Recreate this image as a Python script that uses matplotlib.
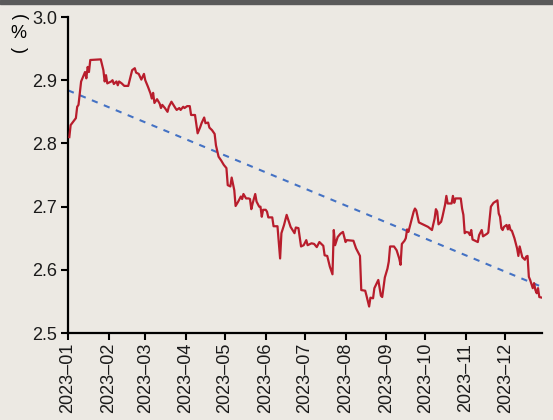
import numpy as np
import pandas as pd
import matplotlib
matplotlib.use('Agg')
import matplotlib.pyplot as plt
import matplotlib.dates as mdates

# yield series
dates = ['2023-01-02', '2023-01-03', '2023-01-07', '2023-01-08', '2023-01-09', '2023-01-11',
         '2023-01-13', '2023-01-14', '2023-01-15', '2023-01-16', '2023-01-17', '2023-01-18',
         '2023-01-26', '2023-01-28', '2023-01-29', '2023-01-30', '2023-01-31', '2023-02-03',
         '2023-02-04', '2023-02-05', '2023-02-07', '2023-02-08', '2023-02-09', '2023-02-11',
         '2023-02-13', '2023-02-16', '2023-02-18', '2023-02-19', '2023-02-21', '2023-02-22',
         '2023-02-24', '2023-02-26', '2023-02-28', '2023-03-01', '2023-03-03', '2023-03-05',
         '2023-03-06', '2023-03-07', '2023-03-08', '2023-03-10', '2023-03-12', '2023-03-13',
         '2023-03-14', '2023-03-16', '2023-03-18', '2023-03-19', '2023-03-21', '2023-03-24',
         '2023-03-25', '2023-03-27', '2023-03-28', '2023-03-30', '2023-03-31', '2023-04-02',
         '2023-04-04', '2023-04-05', '2023-04-08', '2023-04-10', '2023-04-12', '2023-04-13',
         '2023-04-15', '2023-04-16', '2023-04-18', '2023-04-19', '2023-04-21', '2023-04-23',
         '2023-04-24', '2023-04-26', '2023-04-28', '2023-04-30', '2023-05-02', '2023-05-03',
         '2023-05-05', '2023-05-06', '2023-05-08', '2023-05-09', '2023-05-11', '2023-05-13',
         '2023-05-14', '2023-05-15', '2023-05-17', '2023-05-19', '2023-05-20', '2023-05-21',
         '2023-05-22', '2023-05-24', '2023-05-25', '2023-05-27', '2023-05-28', '2023-05-29',
         '2023-05-30', '2023-06-01', '2023-06-02', '2023-06-03', '2023-06-06', '2023-06-07',
         '2023-06-10', '2023-06-12', '2023-06-13', '2023-06-15', '2023-06-17', '2023-06-19',
         '2023-06-20', '2023-06-23', '2023-06-24', '2023-06-26', '2023-06-28', '2023-06-30',
         '2023-07-02', '2023-07-03', '2023-07-06', '2023-07-08', '2023-07-10', '2023-07-12',
         '2023-07-15', '2023-07-16', '2023-07-18', '2023-07-20', '2023-07-22', '2023-07-23',
         '2023-07-24', '2023-07-26', '2023-07-28', '2023-07-30', '2023-08-01', '2023-08-02',
         '2023-08-07', '2023-08-09', '2023-08-12', '2023-08-13', '2023-08-16', '2023-08-17',
         '2023-08-19', '2023-08-20', '2023-08-22', '2023-08-23', '2023-08-26', '2023-08-28',
         '2023-08-29', '2023-08-31', '2023-09-02', '2023-09-03', '2023-09-04', '2023-09-07',
         '2023-09-09', '2023-09-11', '2023-09-12', '2023-09-13', '2023-09-15', '2023-09-16',
         '2023-09-17', '2023-09-18', '2023-09-20', '2023-09-22', '2023-09-23', '2023-09-24',
         '2023-09-26', '2023-09-30', '2023-10-03', '2023-10-06', '2023-10-08', '2023-10-09',
         '2023-10-10', '2023-10-11', '2023-10-13', '2023-10-14', '2023-10-16', '2023-10-17',
         '2023-10-18', '2023-10-21', '2023-10-22', '2023-10-23', '2023-10-24', '2023-10-28',
         '2023-10-29', '2023-10-30', '2023-10-31', '2023-11-01', '2023-11-03', '2023-11-04',
         '2023-11-05', '2023-11-06', '2023-11-08', '2023-11-10', '2023-11-11', '2023-11-13',
         '2023-11-14', '2023-11-17', '2023-11-18', '2023-11-19', '2023-11-20', '2023-11-22',
         '2023-11-25', '2023-11-26', '2023-11-27', '2023-11-28', '2023-11-29', '2023-11-30',
         '2023-12-02', '2023-12-03', '2023-12-04', '2023-12-05', '2023-12-06', '2023-12-08',
         '2023-12-10', '2023-12-11', '2023-12-12', '2023-12-14', '2023-12-16', '2023-12-17',
         '2023-12-18', '2023-12-19', '2023-12-20', '2023-12-22', '2023-12-23', '2023-12-24',
         '2023-12-25', '2023-12-26', '2023-12-27', '2023-12-29']
values = [2.810, 2.829, 2.840, 2.858, 2.861, 2.898,
          2.908, 2.913, 2.903, 2.921, 2.913, 2.932,
          2.933, 2.916, 2.898, 2.908, 2.895, 2.898,
          2.900, 2.894, 2.898, 2.892, 2.898, 2.895,
          2.891, 2.891, 2.908, 2.916, 2.919, 2.912,
          2.910, 2.901, 2.910, 2.900, 2.890, 2.879,
          2.871, 2.880, 2.864, 2.870, 2.863, 2.856,
          2.861, 2.856, 2.850, 2.858, 2.866, 2.856,
          2.853, 2.856, 2.853, 2.858, 2.856, 2.859,
          2.859, 2.845, 2.845, 2.816, 2.826, 2.832,
          2.841, 2.832, 2.833, 2.825, 2.821, 2.815,
          2.797, 2.779, 2.773, 2.766, 2.761, 2.734,
          2.732, 2.746, 2.726, 2.701, 2.708, 2.716,
          2.712, 2.720, 2.713, 2.713, 2.712, 2.696,
          2.705, 2.720, 2.708, 2.700, 2.700, 2.684,
          2.695, 2.695, 2.692, 2.683, 2.683, 2.669,
          2.669, 2.618, 2.658, 2.671, 2.687, 2.674,
          2.668, 2.658, 2.667, 2.666, 2.637, 2.639,
          2.647, 2.639, 2.642, 2.641, 2.636, 2.644,
          2.638, 2.623, 2.622, 2.605, 2.593, 2.663,
          2.639, 2.652, 2.657, 2.660, 2.644, 2.647,
          2.646, 2.634, 2.622, 2.568, 2.567, 2.559,
          2.542, 2.556, 2.555, 2.571, 2.584, 2.559,
          2.557, 2.588, 2.602, 2.613, 2.637, 2.637,
          2.631, 2.618, 2.608, 2.641, 2.646, 2.650,
          2.664, 2.660, 2.676, 2.692, 2.697, 2.694,
          2.675, 2.671, 2.668, 2.663, 2.681, 2.696,
          2.692, 2.672, 2.676, 2.684, 2.703, 2.717,
          2.705, 2.705, 2.717, 2.706, 2.713, 2.713,
          2.697, 2.687, 2.658, 2.660, 2.659, 2.655,
          2.663, 2.648, 2.646, 2.644, 2.655, 2.663,
          2.653, 2.657, 2.659, 2.679, 2.700, 2.706,
          2.710, 2.689, 2.684, 2.666, 2.663, 2.668,
          2.671, 2.664, 2.671, 2.663, 2.662, 2.650,
          2.634, 2.622, 2.637, 2.620, 2.616, 2.621,
          2.622, 2.589, 2.584, 2.571, 2.579, 2.568,
          2.563, 2.571, 2.557, 2.556]

# linear trend line, endpoints
trend_dates = ['2023-01-01', '2023-12-29']
trend_values = [2.884, 2.573]

month_ticks = pd.date_range('2023-01-01', '2023-12-01', freq='MS')
yticks = [2.5, 2.6, 2.7, 2.8, 2.9, 3.0]

bg = '#ece9e3'
plt.rcParams['font.family'] = ['Liberation Sans', 'DejaVu Sans']

fig = plt.figure(figsize=(5.53, 4.2), dpi=100, facecolor=bg)
ax = fig.add_axes([0.123, 0.207, 0.857, 0.7525])
ax.set_facecolor(bg)

x = pd.to_datetime(dates)
ax.plot(x, values, color='#b81d2c', lw=1.6, zorder=3)
ax.plot(pd.to_datetime(trend_dates), trend_values, color='#4472c4', lw=1.5,
        ls=(0, (3, 3.2)), zorder=2)

ax.set_xlim(pd.Timestamp('2023-01-01'), pd.Timestamp('2023-12-29'))
ax.set_ylim(2.5, 3.0)
ax.set_yticks(yticks)
ax.set_yticklabels(['%.1f' % v for v in yticks])
ax.set_xticks(month_ticks)
ax.set_xticklabels([d.strftime('%Y') + '\u2013' + d.strftime('%m') for d in month_ticks],
                   rotation=90)
ax.tick_params(axis='both', labelsize=13, length=5, width=1.5, color='black',
               labelcolor='#1a1a1a')
ax.tick_params(axis='x', pad=2)
ax.tick_params(axis='y', pad=3)

for s in ['top', 'right']:
    ax.spines[s].set_visible(False)
for s in ['left', 'bottom']:
    ax.spines[s].set_linewidth(1.6)
    ax.spines[s].set_color('black')

# vertical unit label
fig.text(18 / 553, 1 - 17 / 420, '(', rotation=-90, ha='center', va='center', fontsize=13)
fig.text(18 / 553, 1 - 33 / 420, '%', ha='center', va='center', fontsize=13)
fig.text(18 / 553, 1 - 50 / 420, ')', rotation=-90, ha='center', va='center', fontsize=13)

# dark bar along the top edge
fig.patches.append(plt.Rectangle((0, 1 - 4 / 420), 1, 4 / 420, transform=fig.transFigure,
                                 color='#5a5a5a', zorder=10))

plt.savefig('out.png', dpi=100, facecolor=bg)
